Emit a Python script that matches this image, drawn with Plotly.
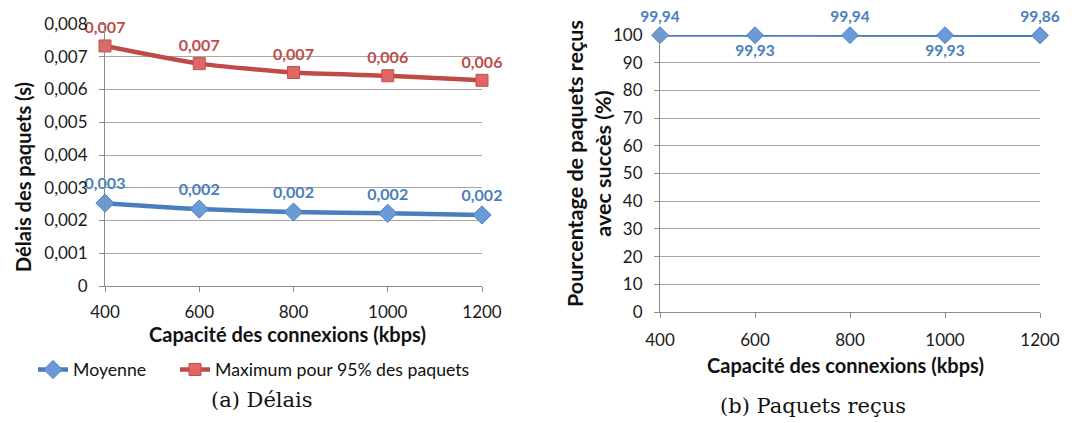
import plotly.graph_objects as go

# ---- data ----
capacite = [400, 600, 800, 1000, 1200]
moyenne = [0.00253, 0.00235, 0.00226, 0.00222, 0.00217]
maximum95 = [0.00733, 0.00679, 0.00652, 0.00642, 0.00628]
moyenne_labels = ["0,003", "0,002", "0,002", "0,002", "0,002"]
maximum_labels = ["0,007", "0,007", "0,007", "0,006", "0,006"]
recus = [99.94, 99.93, 99.94, 99.93, 99.86]
recus_labels = ["99,94", "99,93", "99,94", "99,93", "99,86"]
x_ticks = ["400", "600", "800", "1000", "1200"]
delay_tickvals = [0, 0.001, 0.002, 0.003, 0.004, 0.005, 0.006, 0.007, 0.008]
delay_ticktext = ["0", "0,001", "0,002", "0,003", "0,004", "0,005", "0,006", "0,007", "0,008"]
pct_tickvals = [0, 10, 20, 30, 40, 50, 60, 70, 80, 90, 100]

BLUE = "#4A7EBB"
RED = "#BE4B48"
FONT = "Lato"
AXIS = "#8C8C8C"
W, H = 1077, 423
OFF = 8  # page body margin


def px(x):
    return (x - OFF) / W


def py(y):
    return (H - (y - OFF)) / H


fig = go.Figure()

fig.add_trace(go.Scatter(
    x=capacite, y=moyenne, name="Moyenne", mode="lines+markers+text",
    line=dict(color=BLUE, width=4.5, shape="spline", smoothing=0.6),
    marker=dict(symbol="diamond", size=14, color="#6A9AD8", line=dict(color="#4F81BD", width=1)),
    text=moyenne_labels, textposition="top center",
    textfont=dict(family=FONT, size=16, color=BLUE, weight="bold"),
    cliponaxis=False, xaxis="x", yaxis="y", legend="legend"))

fig.add_trace(go.Scatter(
    x=capacite, y=maximum95, name="Maximum pour 95% des paquets", mode="lines+markers+text",
    line=dict(color=RED, width=4.5, shape="spline", smoothing=0.6),
    marker=dict(symbol="square", size=12, color="#E06764", line=dict(color="#C0504D", width=1)),
    text=maximum_labels, textposition="top center",
    textfont=dict(family=FONT, size=16, color=RED, weight="bold"),
    cliponaxis=False, xaxis="x", yaxis="y", legend="legend2"))

fig.add_trace(go.Scatter(
    x=capacite, y=recus, name="Paquets reçus", mode="lines+markers+text",
    line=dict(color=BLUE, width=3),
    marker=dict(symbol="diamond", size=13, color="#6A9AD8", line=dict(color="#4F81BD", width=1)),
    text=recus_labels,
    textposition=["top center", "bottom center", "top center", "bottom center", "top center"],
    textfont=dict(family=FONT, size=15.5, color=BLUE, weight="bold"),
    cliponaxis=False, showlegend=False, xaxis="x2", yaxis="y2"))

axis_common = dict(showline=True, linecolor=AXIS, linewidth=1, ticks="outside",
                   tickcolor=AXIS, ticklen=5, zeroline=False, automargin=False,
                   tickfont=dict(family=FONT, size=17, color="#1a1a1a"))

title_font = dict(family=FONT, size=20, color="#111", weight="bold")

fig.update_layout(
    width=W, height=H,
    margin=dict(l=0, r=0, t=0, b=0),
    paper_bgcolor="white", plot_bgcolor="white",
    font=dict(family=FONT, color="#111"),
    xaxis=dict(domain=[px(105), px(482)], range=[400, 1200], tickvals=capacite, ticktext=x_ticks,
               showgrid=False, anchor="y", ticklabelstandoff=6, **axis_common),
    yaxis=dict(domain=[py(286), py(24)], range=[0, 0.008], tickvals=delay_tickvals, ticktext=delay_ticktext,
               showgrid=True, gridcolor="#A6A6A6", gridwidth=1, anchor="x", ticklabelstandoff=8,
               **axis_common),
    xaxis2=dict(domain=[px(660), px(1040)], range=[400, 1200], tickvals=capacite, ticktext=x_ticks,
                showgrid=False, anchor="y2", ticklabelstandoff=8, **axis_common),
    yaxis2=dict(domain=[py(312), py(35)], range=[0, 100], tickvals=pct_tickvals,
                showgrid=True, gridcolor="#A6A6A6", gridwidth=1, anchor="x2", ticklabelstandoff=8,
                **axis_common),
    legend=dict(x=px(33), y=py(370), xanchor="left", yanchor="middle",
                font=dict(family=FONT, size=17.7, color="#111"), bgcolor="rgba(0,0,0,0)"),
    legend2=dict(x=px(175), y=py(370), xanchor="left", yanchor="middle",
                 font=dict(family=FONT, size=17.7, color="#111"), bgcolor="rgba(0,0,0,0)"),
    annotations=[
        dict(text="Capacité des connexions (kbps)", x=px(287), y=py(334), xref="paper", yref="paper",
             showarrow=False, font=title_font, xanchor="center", yanchor="middle"),
        dict(text="Délais des paquets (s)", x=px(23), y=py(177), xref="paper", yref="paper",
             showarrow=False, font=title_font, textangle=-90, xanchor="center", yanchor="middle"),
        dict(text="Capacité des connexions (kbps)", x=px(846), y=py(365), xref="paper", yref="paper",
             showarrow=False, font=title_font, xanchor="center", yanchor="middle"),
        dict(text="Pourcentage de paquets reçus<br>avec succès (%)", x=px(589), y=py(164),
             xref="paper", yref="paper", showarrow=False, font=dict(family=FONT, size=21.5, color="#111", weight="bold"),
             textangle=-90, xanchor="center", yanchor="middle"),
        dict(text="(a) Délais", x=px(262), y=py(400), xref="paper", yref="paper",
             showarrow=False, font=dict(family="DejaVu Serif", size=21, color="#111"),
             xanchor="center", yanchor="middle"),
        dict(text="(b) Paquets reçus", x=px(813), y=py(406), xref="paper", yref="paper",
             showarrow=False, font=dict(family="DejaVu Serif", size=21, color="#111"),
             xanchor="center", yanchor="middle"),
    ],
)

fig.write_html("out.html")
